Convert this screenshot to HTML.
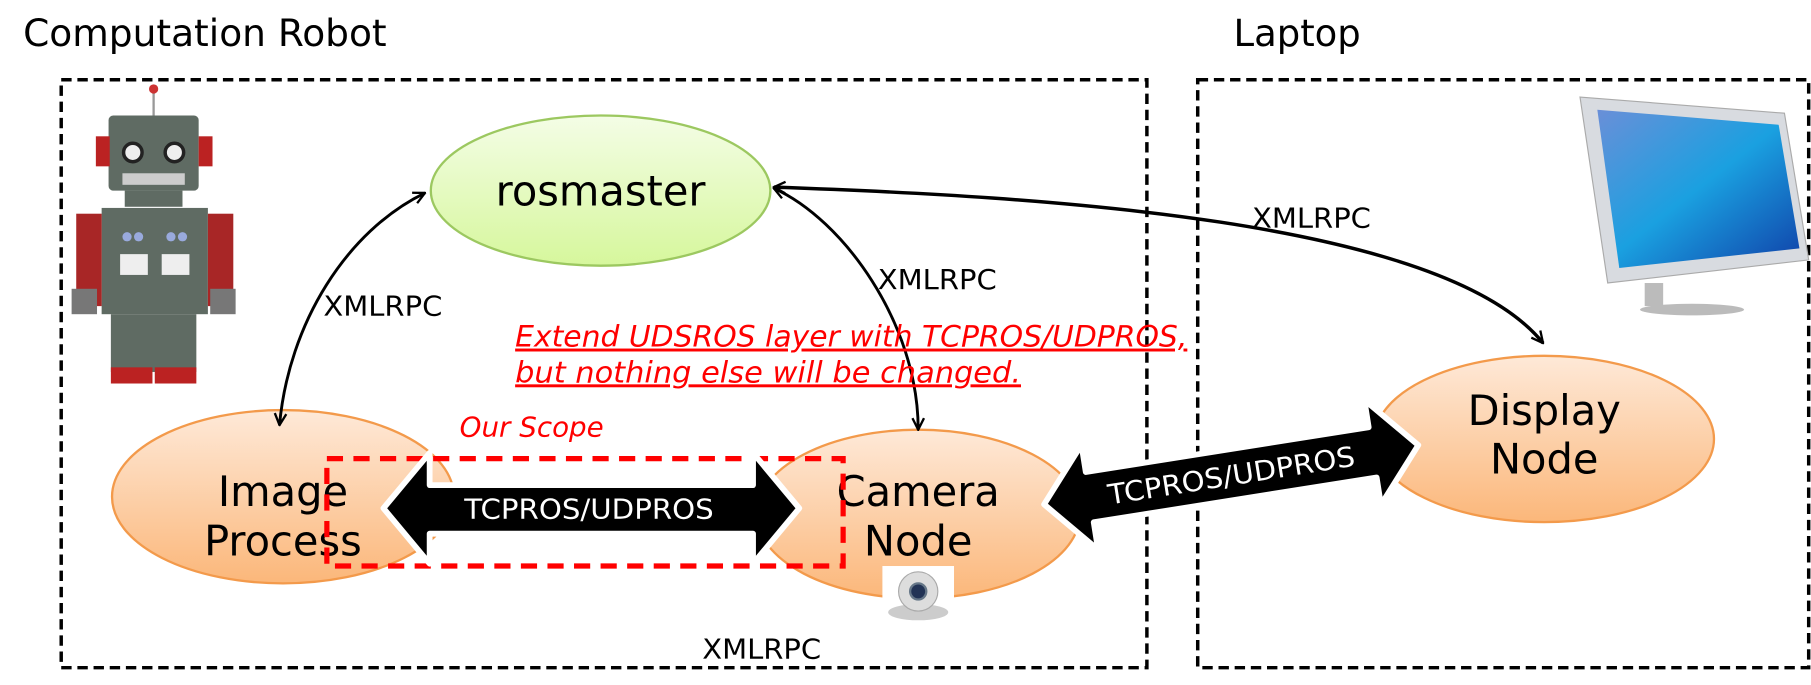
<!DOCTYPE html>
<html><head><meta charset="utf-8"><style>
html,body{margin:0;padding:0;background:#fff;width:1811px;height:685px;overflow:hidden}
svg{display:block}
text{font-family:"DejaVu Sans","Liberation Sans",sans-serif}
</style></head><body>
<svg width="1811" height="685" viewBox="0 0 1568 593" preserveAspectRatio="none" xmlns="http://www.w3.org/2000/svg">
<defs>
<linearGradient id="g" x1="0" y1="0" x2="0" y2="1"><stop offset="0" stop-color="#f4fde6"/><stop offset="1" stop-color="#d6f79c"/></linearGradient>
<linearGradient id="o" x1="0" y1="0" x2="0" y2="1"><stop offset="0" stop-color="#fee9d8"/><stop offset="1" stop-color="#fbb77a"/></linearGradient>
<linearGradient id="scr" x1="0" y1="0" x2="1" y2="1"><stop offset="0" stop-color="#6a8fd8"/><stop offset="0.5" stop-color="#1aa0e0"/><stop offset="1" stop-color="#1040a8"/></linearGradient>
<marker id="ah" viewBox="0 0 12 12" refX="11" refY="6" markerWidth="12" markerHeight="12" markerUnits="userSpaceOnUse" orient="auto-start-reverse"><path d="M1,1 L11,6 L1,11" fill="none" stroke="#000" stroke-width="2"/></marker>
</defs>
<text x="20" y="40" font-size="32.5">Computation Robot</text>
<text x="1068" y="40" font-size="32">Laptop</text>
<rect x="53" y="69" width="940" height="509" fill="none" stroke="#000" stroke-width="3" stroke-dasharray="9,5"/>
<rect x="1037" y="69" width="529" height="509" fill="none" stroke="#000" stroke-width="3" stroke-dasharray="9,5"/>

<!-- robot -->
<g>
<line x1="133" y1="78" x2="133" y2="100" stroke="#999" stroke-width="2"/>
<circle cx="133" cy="77" r="4" fill="#c33"/>
<rect x="94" y="100" width="78" height="65" fill="#5f6b63" rx="4"/>
<rect x="83" y="118" width="12" height="26" fill="#b22"/>
<rect x="172" y="118" width="12" height="26" fill="#b22"/>
<circle cx="115" cy="132" r="8" fill="#eee" stroke="#222" stroke-width="3"/>
<circle cx="151" cy="132" r="8" fill="#eee" stroke="#222" stroke-width="3"/>
<rect x="106" y="150" width="54" height="10" fill="#ccc"/>
<rect x="108" y="165" width="50" height="14" fill="#5f6b63"/>
<rect x="88" y="180" width="92" height="92" fill="#5f6b63"/>
<rect x="66" y="185" width="22" height="80" fill="#a82626"/>
<rect x="180" y="185" width="22" height="80" fill="#a82626"/>
<rect x="62" y="250" width="22" height="22" fill="#777"/>
<rect x="182" y="250" width="22" height="22" fill="#777"/>
<rect x="96" y="272" width="74" height="50" fill="#5f6b63"/>
<rect x="96" y="318" width="36" height="14" fill="#b22"/>
<rect x="134" y="318" width="36" height="14" fill="#b22"/>
<circle cx="110" cy="205" r="4" fill="#9ad"/><circle cx="120" cy="205" r="4" fill="#9ad"/>
<circle cx="148" cy="205" r="4" fill="#9ad"/><circle cx="158" cy="205" r="4" fill="#9ad"/>
<rect x="104" y="220" width="24" height="18" fill="#eee"/><rect x="140" y="220" width="24" height="18" fill="#eee"/>
</g>

<!-- monitor -->
<g>
<polygon points="1368,84 1545,98 1566,225 1392,245" fill="#d8dbe0" stroke="#aaa"/>
<polygon points="1383,95 1540,108 1558,215 1402,232" fill="url(#scr)"/>
<rect x="1424" y="245" width="16" height="20" fill="#bbb"/>
<ellipse cx="1465" cy="268" rx="45" ry="5" fill="#bbb"/>
</g>

<ellipse cx="520" cy="165" rx="147" ry="65" fill="url(#g)" stroke="#9cc860" stroke-width="2"/>
<text x="520" y="178" font-size="36" text-anchor="middle">rosmaster</text>

<ellipse cx="245" cy="430" rx="148" ry="75" fill="url(#o)" stroke="#f39a4b" stroke-width="2"/>
<text x="245" y="438" font-size="36" text-anchor="middle">Image</text>
<text x="245" y="481" font-size="36" text-anchor="middle">Process</text>

<ellipse cx="795" cy="445" rx="140" ry="73" fill="url(#o)" stroke="#f39a4b" stroke-width="2"/>
<text x="795" y="438" font-size="36" text-anchor="middle">Camera</text>
<text x="795" y="481" font-size="36" text-anchor="middle">Node</text>

<ellipse cx="1337" cy="380" rx="147" ry="72" fill="url(#o)" stroke="#f39a4b" stroke-width="2"/>
<text x="1337" y="368" font-size="36" text-anchor="middle">Display</text>
<text x="1337" y="410" font-size="36" text-anchor="middle">Node</text>

<!-- curves -->
<path d="M368,167 C300,200 250,280 242,368" fill="none" stroke="#000" stroke-width="2.5" marker-start="url(#ah)" marker-end="url(#ah)"/>
<path d="M670,163 C730,190 795,280 795,372" fill="none" stroke="#000" stroke-width="2.5" marker-start="url(#ah)" marker-end="url(#ah)"/>
<path d="M670,162 C900,170 1250,190 1336,297" fill="none" stroke="#000" stroke-width="3" marker-start="url(#ah)" marker-end="url(#ah)"/>

<!-- camera icon -->
<rect x="764" y="490" width="62" height="46" fill="#fff"/>
<ellipse cx="795" cy="530" rx="26" ry="7" fill="#ccc"/>
<circle cx="795" cy="512" r="17" fill="#ddd" stroke="#aaa"/>
<circle cx="795" cy="512" r="7" fill="#235" stroke="#678" stroke-width="2"/>

<!-- red scope -->
<rect x="283" y="397" width="447" height="93" fill="none" stroke="#f00" stroke-width="4.5" stroke-dasharray="14,9"/>

<!-- horizontal double arrow -->
<polygon points="332,440 372,392 372,420 652,420 652,392 692,440 652,488 652,462 372,462 372,488" fill="#000" stroke="#fff" stroke-width="5" stroke-linejoin="round"/>
<text x="510" y="449" font-size="24" fill="#fff" text-anchor="middle" textLength="216" lengthAdjust="spacingAndGlyphs">TCPROS/UDPROS</text>

<!-- diagonal double arrow -->
<g transform="translate(1066,411) rotate(-9)">
<polygon points="-164,0 -124,-46 -124,-22 124,-22 124,-46 164,0 124,46 124,22 -124,22 -124,46" fill="#000" stroke="#fff" stroke-width="5" stroke-linejoin="round"/>
<text x="0" y="9" font-size="24" fill="#fff" text-anchor="middle" textLength="216" lengthAdjust="spacingAndGlyphs">TCPROS/UDPROS</text>
</g>

<text x="398" y="378" font-size="24" fill="#f00" font-style="italic">Our Scope</text>
<text x="446" y="300" font-size="25.5" fill="#f00" font-style="italic" text-decoration="underline" textLength="582" lengthAdjust="spacingAndGlyphs">Extend UDSROS layer with TCPROS/UDPROS,</text>
<text x="446" y="331" font-size="25.5" fill="#f00" font-style="italic" text-decoration="underline" textLength="438" lengthAdjust="spacingAndGlyphs">but nothing else will be changed.</text>

<text x="280" y="273" font-size="24" textLength="103" lengthAdjust="spacingAndGlyphs">XMLRPC</text>
<text x="760" y="250" font-size="24" textLength="103" lengthAdjust="spacingAndGlyphs">XMLRPC</text>
<text x="1084" y="197" font-size="24" textLength="103" lengthAdjust="spacingAndGlyphs">XMLRPC</text>
<text x="608" y="570" font-size="24" textLength="103" lengthAdjust="spacingAndGlyphs">XMLRPC</text>
</svg>
</body></html>
